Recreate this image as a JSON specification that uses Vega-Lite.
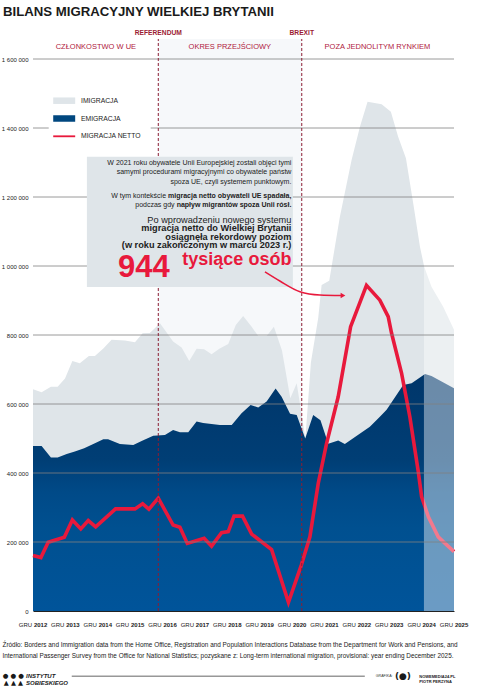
{
  "$schema": "https://vega.github.io/schema/vega-lite/v6.json",
  "width": 421,
  "height": 579.6,
  "autosize": "none",
  "padding": {"left": 33, "top": 31.4, "right": 23, "bottom": 84},
  "background": "#ffffff",
  "title": {
    "text": "BILANS MIGRACYJNY WIELKIEJ BRYTANII",
    "anchor": "start",
    "frame": "group",
    "dx": -30,
    "dy": 13,
    "offset": 14,
    "baseline": "alphabetic",
    "font": "Liberation Sans",
    "fontSize": 13.2,
    "fontWeight": "bold",
    "color": "#1a1a1a"
  },
  "datasets": {
    "imigracja": [
      {"data": "2012-12-01", "wartosc": 643000},
      {"data": "2013-03-08", "wartosc": 634000},
      {"data": "2013-06-21", "wartosc": 650000},
      {"data": "2013-09-05", "wartosc": 650000},
      {"data": "2013-11-27", "wartosc": 674000},
      {"data": "2014-02-18", "wartosc": 725000},
      {"data": "2014-05-13", "wartosc": 718000},
      {"data": "2014-08-23", "wartosc": 739000},
      {"data": "2014-10-30", "wartosc": 739000},
      {"data": "2015-02-02", "wartosc": 761000},
      {"data": "2015-05-06", "wartosc": 786000},
      {"data": "2015-10-04", "wartosc": 784000},
      {"data": "2016-01-25", "wartosc": 779000},
      {"data": "2016-04-20", "wartosc": 805000},
      {"data": "2016-07-11", "wartosc": 806000},
      {"data": "2016-11-02", "wartosc": 834000},
      {"data": "2017-03-30", "wartosc": 781000},
      {"data": "2017-07-04", "wartosc": 764000},
      {"data": "2017-09-28", "wartosc": 725000},
      {"data": "2017-12-20", "wartosc": 760000},
      {"data": "2018-03-15", "wartosc": 759000},
      {"data": "2018-06-07", "wartosc": 744000},
      {"data": "2018-09-02", "wartosc": 760000},
      {"data": "2018-12-12", "wartosc": 774000},
      {"data": "2019-03-07", "wartosc": 829000},
      {"data": "2019-05-29", "wartosc": 855000},
      {"data": "2019-09-02", "wartosc": 824000},
      {"data": "2019-11-15", "wartosc": 797000},
      {"data": "2020-02-18", "wartosc": 797000},
      {"data": "2020-05-10", "wartosc": 824000},
      {"data": "2020-08-09", "wartosc": 755000},
      {"data": "2020-11-11", "wartosc": 617000},
      {"data": "2021-01-22", "wartosc": 660000},
      {"data": "2021-04-30", "wartosc": 500000},
      {"data": "2021-07-01", "wartosc": 720000},
      {"data": "2021-09-22", "wartosc": 850000},
      {"data": "2021-10-30", "wartosc": 945000},
      {"data": "2022-01-24", "wartosc": 957000},
      {"data": "2022-05-24", "wartosc": 1143000},
      {"data": "2022-10-03", "wartosc": 1307000},
      {"data": "2023-01-06", "wartosc": 1404000},
      {"data": "2023-04-01", "wartosc": 1476000},
      {"data": "2023-09-07", "wartosc": 1469000},
      {"data": "2023-12-20", "wartosc": 1447000},
      {"data": "2024-03-11", "wartosc": 1375000},
      {"data": "2024-06-07", "wartosc": 1312000},
      {"data": "2024-08-28", "wartosc": 1182000},
      {"data": "2024-11-12", "wartosc": 1056000},
      {"data": "2024-12-30", "wartosc": 998000},
      {"data": "2025-03-22", "wartosc": 940000},
      {"data": "2025-08-01", "wartosc": 882000},
      {"data": "2025-12-01", "wartosc": 815000}
    ],
    "emigracja": [
      {"data": "2012-12-01", "wartosc": 478000},
      {"data": "2013-03-08", "wartosc": 478000},
      {"data": "2013-06-21", "wartosc": 445000},
      {"data": "2013-09-05", "wartosc": 445000},
      {"data": "2013-12-16", "wartosc": 455000},
      {"data": "2014-03-18", "wartosc": 462000},
      {"data": "2014-07-01", "wartosc": 472000},
      {"data": "2014-10-30", "wartosc": 486000},
      {"data": "2015-02-02", "wartosc": 498000},
      {"data": "2015-03-28", "wartosc": 498000},
      {"data": "2015-08-08", "wartosc": 484000},
      {"data": "2016-01-06", "wartosc": 481000},
      {"data": "2016-04-09", "wartosc": 493000},
      {"data": "2016-08-18", "wartosc": 508000},
      {"data": "2016-12-28", "wartosc": 510000},
      {"data": "2017-03-30", "wartosc": 525000},
      {"data": "2017-06-15", "wartosc": 518000},
      {"data": "2017-09-17", "wartosc": 518000},
      {"data": "2017-12-20", "wartosc": 549000},
      {"data": "2018-03-04", "wartosc": 545000},
      {"data": "2018-09-09", "wartosc": 539000},
      {"data": "2019-01-20", "wartosc": 539000},
      {"data": "2019-05-11", "wartosc": 573000},
      {"data": "2019-08-21", "wartosc": 597000},
      {"data": "2019-11-15", "wartosc": 590000},
      {"data": "2020-02-18", "wartosc": 607000},
      {"data": "2020-05-29", "wartosc": 645000},
      {"data": "2020-08-05", "wartosc": 621000},
      {"data": "2020-11-08", "wartosc": 572000},
      {"data": "2021-01-22", "wartosc": 568000},
      {"data": "2021-04-28", "wartosc": 500000},
      {"data": "2021-07-27", "wartosc": 568000},
      {"data": "2021-10-17", "wartosc": 553000},
      {"data": "2022-01-13", "wartosc": 485000},
      {"data": "2022-05-05", "wartosc": 494000},
      {"data": "2022-07-19", "wartosc": 484000},
      {"data": "2023-04-27", "wartosc": 534000},
      {"data": "2023-08-18", "wartosc": 563000},
      {"data": "2023-11-02", "wartosc": 583000},
      {"data": "2024-05-07", "wartosc": 655000},
      {"data": "2024-08-10", "wartosc": 660000},
      {"data": "2025-01-08", "wartosc": 687000},
      {"data": "2025-03-22", "wartosc": 681000},
      {"data": "2025-12-01", "wartosc": 646000}
    ],
    "netto": [
      {"data": "2012-12-01", "wartosc": 161000},
      {"data": "2013-02-28", "wartosc": 155000},
      {"data": "2013-05-21", "wartosc": 199000},
      {"data": "2013-11-19", "wartosc": 214000},
      {"data": "2014-02-18", "wartosc": 264000},
      {"data": "2014-05-24", "wartosc": 238000},
      {"data": "2014-08-16", "wartosc": 262000},
      {"data": "2014-11-08", "wartosc": 244000},
      {"data": "2015-06-20", "wartosc": 296000},
      {"data": "2016-01-25", "wartosc": 296000},
      {"data": "2016-04-20", "wartosc": 311000},
      {"data": "2016-06-30", "wartosc": 295000},
      {"data": "2016-10-14", "wartosc": 327000},
      {"data": "2017-03-30", "wartosc": 249000},
      {"data": "2017-06-15", "wartosc": 243000},
      {"data": "2017-09-06", "wartosc": 196000},
      {"data": "2018-03-15", "wartosc": 211000},
      {"data": "2018-06-07", "wartosc": 188000},
      {"data": "2018-09-28", "wartosc": 227000},
      {"data": "2018-12-12", "wartosc": 230000},
      {"data": "2019-02-15", "wartosc": 275000},
      {"data": "2019-05-22", "wartosc": 275000},
      {"data": "2019-09-02", "wartosc": 223000},
      {"data": "2020-04-14", "wartosc": 178000},
      {"data": "2020-10-21", "wartosc": 25000},
      {"data": "2021-03-15", "wartosc": 133000},
      {"data": "2021-06-20", "wartosc": 215000},
      {"data": "2021-09-22", "wartosc": 370000},
      {"data": "2021-12-25", "wartosc": 486000},
      {"data": "2022-05-05", "wartosc": 621000},
      {"data": "2022-09-22", "wartosc": 824000},
      {"data": "2023-03-20", "wartosc": 944000},
      {"data": "2023-08-18", "wartosc": 901000},
      {"data": "2023-11-20", "wartosc": 853000},
      {"data": "2023-12-28", "wartosc": 805000},
      {"data": "2024-04-19", "wartosc": 689000},
      {"data": "2024-07-21", "wartosc": 563000},
      {"data": "2024-10-24", "wartosc": 404000},
      {"data": "2024-12-01", "wartosc": 331000},
      {"data": "2025-02-15", "wartosc": 273000},
      {"data": "2025-06-06", "wartosc": 215000},
      {"data": "2025-08-01", "wartosc": 201000},
      {"data": "2025-12-01", "wartosc": 172000}
    ],
    "siatka": [
      {"wartosc": 200000}, {"wartosc": 400000}, {"wartosc": 600000}, {"wartosc": 800000},
      {"wartosc": 1000000}, {"wartosc": 1200000}, {"wartosc": 1400000}, {"wartosc": 1600000}
    ],
    "lata": [
      {"data": "2012-12-01", "rok": "2012"}, {"data": "2013-12-01", "rok": "2013"},
      {"data": "2014-12-01", "rok": "2014"}, {"data": "2015-12-01", "rok": "2015"},
      {"data": "2016-12-01", "rok": "2016"}, {"data": "2017-12-01", "rok": "2017"},
      {"data": "2018-12-01", "rok": "2018"}, {"data": "2019-12-01", "rok": "2019"},
      {"data": "2020-12-01", "rok": "2020"}, {"data": "2021-12-01", "rok": "2021"},
      {"data": "2022-12-01", "rok": "2022"}, {"data": "2023-12-01", "rok": "2023"},
      {"data": "2024-12-01", "rok": "2024"}, {"data": "2025-12-01", "rok": "2025"}
    ],
    "wydarzenia": [
      {"data": "2016-10-14", "nazwa": "REFERENDUM"},
      {"data": "2021-03-20", "nazwa": "BREXIT"}
    ],
    "okresy": [
      {"data": "2014-11-10", "nazwa": "CZŁONKOSTWO W UE"},
      {"data": "2018-12-30", "nazwa": "OKRES PRZEJŚCIOWY"},
      {"data": "2023-07-22", "nazwa": "POZA JEDNOLITYM RYNKIEM"}
    ],
    "strzalka": [
      {"data": "2020-01-30", "wartosc": 983000},
      {"data": "2020-07-16", "wartosc": 956500},
      {"data": "2021-02-28", "wartosc": 925500},
      {"data": "2021-10-11", "wartosc": 916000},
      {"data": "2022-06-15", "wartosc": 914500}
    ]
  },
  "layer": [
    {
      "data": {"values": [{"od": "2016-10-14", "do": "2021-03-20"}]},
      "mark": {"type": "rect", "color": "#f6f8fa"},
      "encoding": {
        "x": {
          "field": "od",
          "type": "temporal",
          "scale": {"domain": [{"year": 2012, "month": 12, "date": 1}, {"year": 2025, "month": 12, "date": 1}]},
          "axis": {
            "labels": false,
            "title": [
              "Źródło: Borders and Immigration data from the Home Office, Registration and Population Interactions Database from the Department for Work and Pensions, and",
              "International Passenger Survey from the Office for National Statistics; pozyskane z: Long-term international migration, provisional: year ending December 2025."
            ]
          }
        },
        "x2": {"field": "do"},
        "y": {
          "datum": 0,
          "type": "quantitative",
          "scale": {"domain": [0, 1680000], "nice": false},
          "axis": {
            "values": [0, 200000, 400000, 600000, 800000, 1000000, 1200000, 1400000, 1600000],
            "labelExpr": "datum.value == 0 ? '0' : (datum.value < 1000000 ? format(datum.value / 1000, 'd') + ' 000' : '1 ' + substring(format(datum.value, 'd'), 1, 4) + ' 000')",
            "title": null
          }
        },
        "y2": {"datum": 1658000}
      }
    },
    {
      "data": {"name": "imigracja"},
      "mark": {"type": "area"},
      "encoding": {
        "x": {"field": "data", "type": "temporal"},
        "y": {"field": "wartosc", "type": "quantitative"},
        "color": {
          "datum": "IMIGRACJA",
          "type": "nominal",
          "scale": {"domain": ["IMIGRACJA", "EMIGRACJA", "MIGRACJA NETTO"], "range": ["#dfe5e9", "#00477f", "#e8193c"]},
          "legend": {
            "orient": "none",
            "legendX": 15.7,
            "legendY": 53.8,
            "direction": "vertical",
            "title": null,
            "fillColor": "#ffffff",
            "padding": 9,
            "rowPadding": 6.8,
            "symbolSize": 169,
            "symbolType": "M-1.69,-0.5H1.69V0.5H-1.69Z",
            "symbolStrokeWidth": 0,
            "symbolOpacity": 1,
            "labelFont": "Liberation Sans",
            "labelFontSize": 6.8,
            "labelColor": "#222222",
            "labelOffset": 10.3,
            "encode": {
              "symbols": {
                "update": {
                  "shape": [
                    {"test": "datum.value === 'MIGRACJA NETTO'", "value": "M-1.69,-0.14H1.69V0.14H-1.69Z"},
                    {"value": "M-1.69,-0.5H1.69V0.5H-1.69Z"}
                  ],
                  "fill": [
                    {"test": "datum.value === 'EMIGRACJA'", "value": {"gradient": "linear", "x1": 0, "y1": 0, "x2": 0, "y2": 1, "stops": [{"offset": 0, "color": "#00386b"}, {"offset": 1, "color": "#00569b"}]}},
                    {"scale": "color", "field": "value"}
                  ],
                  "stroke": {"value": "transparent"}
                }
              }
            }
          }
        }
      }
    },
    {
      "data": {"name": "emigracja"},
      "mark": {
        "type": "area",
        "fill": {
          "gradient": "linear", "x1": 0, "y1": 0, "x2": 0, "y2": 1,
          "stops": [
            {"offset": 0, "color": "#00366a"},
            {"offset": 0.36, "color": "#003e75"},
            {"offset": 0.5, "color": "#004a88"},
            {"offset": 0.65, "color": "#005090"},
            {"offset": 1, "color": "#00549a"}
          ]
        }
      },
      "encoding": {
        "x": {"field": "data", "type": "temporal"},
        "y": {"field": "wartosc", "type": "quantitative"}
      }
    },
    {
      "data": {"name": "netto"},
      "mark": {"type": "line", "color": "#e8193c", "strokeWidth": 3.6, "strokeJoin": "miter"},
      "encoding": {
        "x": {"field": "data", "type": "temporal"},
        "y": {"field": "wartosc", "type": "quantitative"}
      }
    },
    {
      "data": {"values": [{"od": "2024-12-27", "do": "2025-12-01"}]},
      "mark": {"type": "rect", "color": "#ffffff", "opacity": 0.42},
      "encoding": {
        "x": {"field": "od", "type": "temporal"},
        "x2": {"field": "do"},
        "y": {"datum": 0, "type": "quantitative"},
        "y2": {"datum": 1650000}
      }
    },
    {
      "data": {"name": "siatka"},
      "mark": {"type": "rule", "color": "#808080", "strokeWidth": 0.8},
      "encoding": {
        "y": {"field": "wartosc", "type": "quantitative"}
      }
    },
    {
      "data": {"name": "wydarzenia"},
      "mark": {"type": "rule", "color": "#8c1d33", "strokeWidth": 1, "strokeDash": [3, 2]},
      "encoding": {
        "x": {"field": "data", "type": "temporal"},
        "y": {"datum": 0, "type": "quantitative"},
        "y2": {"datum": 1658000}
      }
    },
    {
      "data": {"values": [{"od": "2014-08-01", "do": "2020-12-10"}]},
      "mark": {"type": "rect", "color": "#dfe5e9"},
      "encoding": {
        "x": {"field": "od", "type": "temporal"},
        "x2": {"field": "do"},
        "y": {"datum": 939000, "type": "quantitative"},
        "y2": {"datum": 1317000}
      }
    },
    {
      "data": {"values": [{"data": "2020-11-23"}]},
      "layer": [
        {
          "mark": {
            "type": "text",
            "text": ["W 2021 roku obywatele Unii Europejskiej zostali objęci tymi", "samymi procedurami migracyjnymi co obywatele państw", "spoza UE, czyli systemem punktowym."],
            "align": "right", "baseline": "alphabetic", "font": "Liberation Sans", "fontSize": 7, "lineHeight": 9.5, "color": "#222222"
          },
          "encoding": {"y": {"datum": 1292800, "type": "quantitative"}}
        },
        {
          "mark": {"type": "text", "text": "migracja netto obywateli UE spadała,", "align": "right", "baseline": "alphabetic", "font": "Liberation Sans", "fontSize": 7, "fontWeight": "bold", "color": "#222222"},
          "encoding": {"y": {"datum": 1196200, "type": "quantitative"}}
        },
        {
          "mark": {"type": "text", "text": "W tym kontekście", "align": "right", "baseline": "alphabetic", "dx": -125.3, "font": "Liberation Sans", "fontSize": 7, "color": "#222222"},
          "encoding": {"y": {"datum": 1196200, "type": "quantitative"}}
        },
        {
          "mark": {"type": "text", "text": "napływ migrantów spoza Unii rósł.", "align": "right", "baseline": "alphabetic", "font": "Liberation Sans", "fontSize": 7, "fontWeight": "bold", "color": "#222222"},
          "encoding": {"y": {"datum": 1170100, "type": "quantitative"}}
        },
        {
          "mark": {"type": "text", "text": "podczas gdy", "align": "right", "baseline": "alphabetic", "dx": -116.8, "font": "Liberation Sans", "fontSize": 7, "color": "#222222"},
          "encoding": {"y": {"datum": 1170100, "type": "quantitative"}}
        },
        {
          "mark": {"type": "text", "text": "Po wprowadzeniu nowego systemu", "align": "right", "baseline": "alphabetic", "font": "Liberation Sans", "fontSize": 9.2, "color": "#222222"},
          "encoding": {"y": {"datum": 1125500, "type": "quantitative"}}
        },
        {
          "mark": {
            "type": "text",
            "text": ["migracja netto do Wielkiej Brytanii", "osiągnęła rekordowy poziom", "(w roku zakończonym w marcu 2023 r.)"],
            "align": "right", "baseline": "alphabetic", "font": "Liberation Sans", "fontSize": 9.2, "fontWeight": "bold", "lineHeight": 8.6, "color": "#222222"
          },
          "encoding": {"y": {"datum": 1100600, "type": "quantitative"}}
        },
        {
          "mark": {"type": "text", "text": "tysiące osób", "align": "right", "baseline": "alphabetic", "font": "Liberation Sans", "fontSize": 18, "fontWeight": "bold", "color": "#e8193c"},
          "encoding": {"y": {"datum": 1003000, "type": "quantitative"}}
        }
      ],
      "encoding": {"x": {"field": "data", "type": "temporal"}}
    },
    {
      "data": {"values": [{"data": "2015-07-19"}]},
      "mark": {"type": "text", "text": "944", "align": "left", "baseline": "alphabetic", "font": "Liberation Sans", "fontSize": 31, "fontWeight": "bold", "color": "#e8193c"},
      "encoding": {
        "x": {"field": "data", "type": "temporal"},
        "y": {"datum": 967200, "type": "quantitative"}
      }
    },
    {
      "data": {"name": "strzalka"},
      "mark": {"type": "line", "color": "#e8193c", "strokeWidth": 1.5, "interpolate": "monotone"},
      "encoding": {
        "x": {"field": "data", "type": "temporal"},
        "y": {"field": "wartosc", "type": "quantitative"}
      }
    },
    {
      "data": {"values": [{"data": "2022-06-28"}]},
      "mark": {"type": "point", "shape": "triangle-right", "filled": true, "size": 30, "color": "#e8193c", "opacity": 1},
      "encoding": {
        "x": {"field": "data", "type": "temporal"},
        "y": {"datum": 914500, "type": "quantitative"}
      }
    },
    {
      "data": {"name": "okresy"},
      "mark": {"type": "text", "align": "center", "baseline": "middle", "font": "Liberation Sans", "fontSize": 7.5, "color": "#b0193d"},
      "encoding": {
        "x": {"field": "data", "type": "temporal"},
        "y": {"datum": 1635700, "type": "quantitative"},
        "text": {"field": "nazwa"}
      }
    },
    {
      "data": {"name": "wydarzenia"},
      "mark": {"type": "text", "align": "center", "baseline": "middle", "font": "Liberation Sans", "fontSize": 6.7, "fontWeight": "bold", "color": "#9b1b33"},
      "encoding": {
        "x": {"field": "data", "type": "temporal"},
        "y": {"datum": 1674500, "type": "quantitative"},
        "text": {"field": "nazwa"}
      }
    },
    {
      "data": {"name": "lata"},
      "mark": {"type": "text", "text": "GRU", "align": "right", "baseline": "alphabetic", "dx": -0.9, "font": "Liberation Sans", "fontSize": 6, "color": "#222222"},
      "encoding": {
        "x": {"field": "data", "type": "temporal"},
        "y": {"datum": -45500, "type": "quantitative"}
      }
    },
    {
      "data": {"name": "lata"},
      "mark": {"type": "text", "align": "left", "baseline": "alphabetic", "dx": 0.9, "font": "Liberation Sans", "fontSize": 6, "fontWeight": "bold", "color": "#222222"},
      "encoding": {
        "x": {"field": "data", "type": "temporal"},
        "y": {"datum": -45500, "type": "quantitative"},
        "text": {"field": "rok"}
      }
    },
    {
      "data": {"values": [{"data": "2012-04-24"}]},
      "mark": {"type": "text", "text": ["● ● ●", "▲ ▲ ▲"], "align": "center", "baseline": "alphabetic", "font": "DejaVu Sans", "fontSize": 6.5, "lineHeight": 7, "color": "#1a1a1a"},
      "encoding": {
        "x": {"field": "data", "type": "temporal"},
        "y": {"datum": -193000, "type": "quantitative"}
      }
    },
    {
      "data": {"values": [{"data": "2012-09-13"}]},
      "mark": {"type": "text", "text": ["INSTYTUT", "SOBIESKIEGO"], "align": "left", "baseline": "alphabetic", "font": "Liberation Sans", "fontSize": 6, "fontStyle": "italic", "fontWeight": "bold", "lineHeight": 7.3, "color": "#1a1a1a"},
      "encoding": {
        "x": {"field": "data", "type": "temporal"},
        "y": {"datum": -193000, "type": "quantitative"}
      }
    },
    {
      "data": {"values": [{"od": "2014-02-11", "do": "2023-03-01"}]},
      "mark": {"type": "rect", "color": "#333333"},
      "encoding": {
        "x": {"field": "od", "type": "temporal"},
        "x2": {"field": "do"},
        "y": {"datum": -187500, "type": "quantitative"},
        "y2": {"datum": -189500}
      }
    },
    {
      "data": {"values": [{"data": "2023-07-03"}]},
      "mark": {"type": "text", "text": "GRAFIKA:", "align": "left", "baseline": "middle", "font": "Liberation Sans", "fontSize": 3.6, "color": "#333333"},
      "encoding": {
        "x": {"field": "data", "type": "temporal"},
        "y": {"datum": -188400, "type": "quantitative"}
      }
    },
    {
      "data": {"values": [{"data": "2024-05-04"}]},
      "mark": {"type": "text", "text": "(●)", "align": "center", "baseline": "middle", "font": "DejaVu Sans", "fontSize": 9, "fontWeight": "bold", "color": "#1a1a1a"},
      "encoding": {
        "x": {"field": "data", "type": "temporal"},
        "y": {"datum": -188400, "type": "quantitative"}
      }
    },
    {
      "data": {"values": [{"data": "2024-11-05"}]},
      "mark": {"type": "text", "text": ["NOWEMEDIA24.PL", "PIOTR PERZYNA"], "align": "left", "baseline": "alphabetic", "font": "Liberation Sans", "fontSize": 4, "fontWeight": "bold", "lineHeight": 5.5, "color": "#1a1a1a"},
      "encoding": {
        "x": {"field": "data", "type": "temporal"},
        "y": {"datum": -194200, "type": "quantitative"}
      }
    }
  ],
  "config": {
    "view": {"stroke": null},
    "font": "Liberation Sans",
    "axisX": {
      "grid": false,
      "ticks": false,
      "domain": true,
      "domainColor": "#222222",
      "domainWidth": 1,
      "labels": false,
      "titleAnchor": "start",
      "titleAlign": "left",
      "titleX": -31,
      "titleY": 35.7,
      "titleBaseline": "alphabetic",
      "titleFont": "Liberation Sans",
      "titleFontSize": 6.4,
      "titleFontWeight": "normal",
      "titleColor": "#222222",
      "titleLineHeight": 10.6
    },
    "axisY": {
      "grid": false,
      "ticks": false,
      "domain": false,
      "labelFont": "Liberation Sans",
      "labelFontSize": 6,
      "labelColor": "#222222",
      "labelPadding": 5
    }
  }
}
